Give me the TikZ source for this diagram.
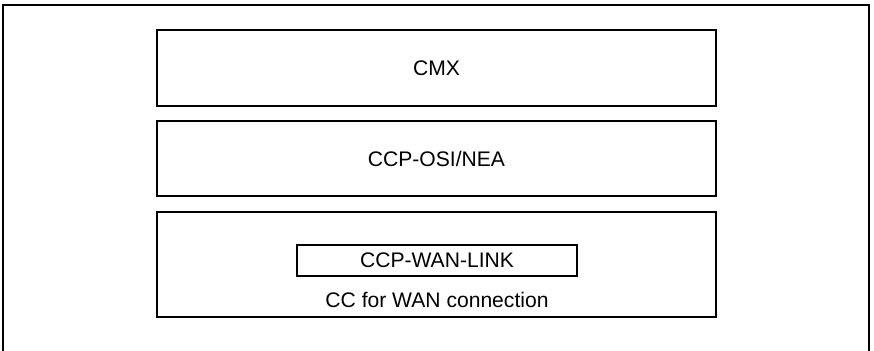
\documentclass[tikz,border=0pt]{standalone}
\usepackage{fontspec}
\setmainfont{Liberation Sans}
\begin{document}
\begin{tikzpicture}[line width=1pt, font=\fontsize{12}{14}\selectfont,
layerbox/.style={draw=black, minimum width=11.18cm, inner sep=0pt},
linkbox/.style={draw=black, minimum width=5.6cm, minimum height=0.62cm, inner sep=0pt}]
\useasboundingbox (0,0) rectangle (17.48,-7.02);
% outer frame, bottom edge runs off the page
\draw (0.06,-7.3)--(0.06,-0.1)--(17.38,-0.1)--(17.38,-7.3);
\node[layerbox, minimum height=1.52cm] (cmx) at (8.73,-1.36) {CMX};
\node[layerbox, minimum height=1.50cm] (osinea) at (8.73,-3.17) {CCP-OSI/NEA};
\node[layerbox, minimum height=2.10cm] (wanbox) at (8.73,-5.29) {};
\node[linkbox] (wanlink) at (8.74,-5.21) {CCP-WAN-LINK};
\node (wanlabel) at (8.74,-6.0) {CC for WAN connection};
\end{tikzpicture}
\end{document}
